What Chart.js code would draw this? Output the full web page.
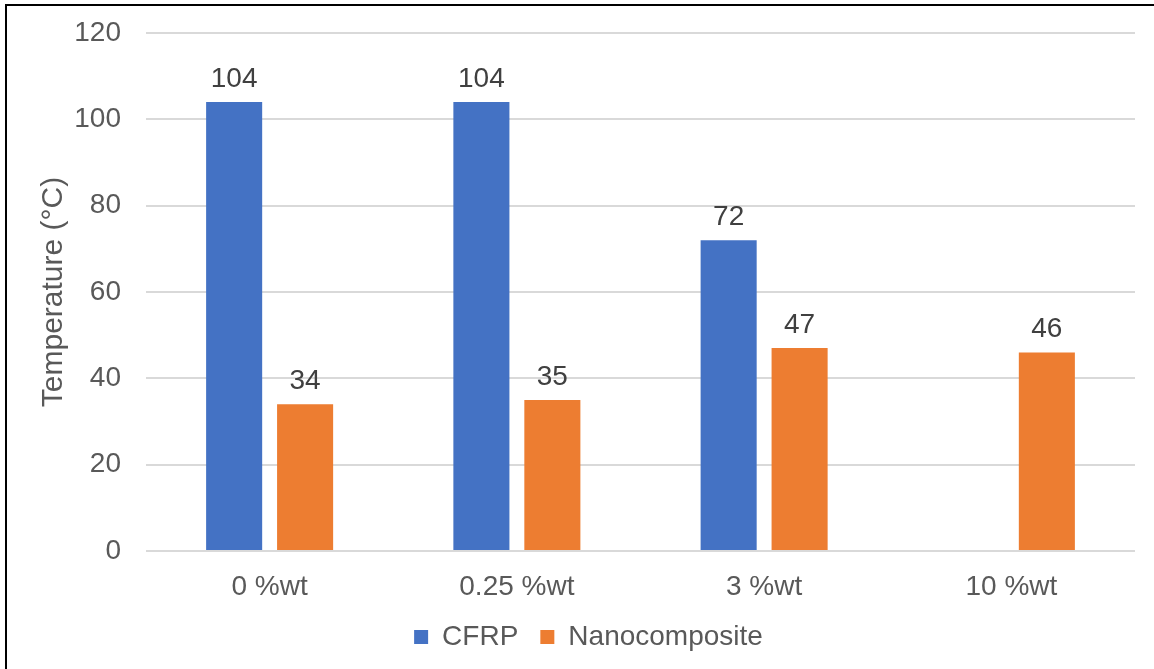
<!DOCTYPE html>
<html>
<head>
<meta charset="utf-8">
<script src="https://cdn.jsdelivr.net/npm/chart.js@4/dist/chart.umd.min.js"></script>
<style>
  html, body { margin: 0; padding: 0; background: #ffffff; }
  #wrap { position: relative; width: 1154px; height: 669px; overflow: hidden; }
  #frame { position: absolute; left: 5px; top: 4px; right: -10px; bottom: -10px;
           border-top: 2px solid #000; border-left: 2px solid #000; pointer-events: none; }
  canvas { position: absolute; left: 0; top: 0; }
</style>
</head>
<body>
<div id="wrap">
  <canvas id="chart" width="1154" height="669"></canvas>
  <div id="frame"></div>
</div>
<script>
// Glass transition temperature by filler content
const categories = ['0 %wt', '0.25 %wt', '3 %wt', '10 %wt'];
const cfrpValues = [104, 104, 72, null];
const nanoValues = [34, 35, 47, 46];
const seriesNames = ['CFRP', 'Nanocomposite'];
const yTicks = [0, 20, 40, 60, 80, 100, 120];

const FONT = "'Liberation Sans', Arial, sans-serif";

// Value labels above each bar
const barLabels = {
  id: 'barLabels',
  afterDatasetsDraw(chart) {
    const ctx = chart.ctx;
    ctx.save();
    ctx.font = '28px ' + FONT;
    ctx.fillStyle = '#404040';
    ctx.textAlign = 'center';
    ctx.textBaseline = 'alphabetic';
    chart.data.datasets.forEach((ds, i) => {
      const meta = chart.getDatasetMeta(i);
      meta.data.forEach((bar, j) => {
        const v = ds.data[j];
        if (v === null || v === undefined) return;
        ctx.fillText(String(Math.round(v)), bar.x, bar.y - 15);
      });
    });
    ctx.restore();
  }
};

// Centre the legend under the whole figure rather than the layout box
const legendShift = {
  id: 'legendShift',
  afterLayout(chart) {
    if (chart.legend) {
      chart.legend.left += 21;
      chart.legend.right += 21;
    }
  }
};

new Chart(document.getElementById('chart'), {
  type: 'bar',
  data: {
    labels: categories,
    datasets: [
      { label: seriesNames[0], data: cfrpValues, backgroundColor: '#4472C4' },
      { label: seriesNames[1], data: nanoValues, backgroundColor: '#ED7D31' }
    ]
  },
  options: {
    responsive: false,
    animation: false,
    categoryPercentage: 0.574,
    barPercentage: 0.79,
    layout: { padding: { left: 0, top: 33, right: 19, bottom: 8 } },
    plugins: {
      tooltip: { enabled: false },
      legend: {
        position: 'bottom',
        labels: {
          font: { family: FONT, size: 28 },
          color: '#595959',
          boxWidth: 14,
          boxHeight: 14,
          padding: 22
        }
      }
    },
    scales: {
      x: {
        grid: { display: false, drawTicks: false },
        border: { display: false },
        ticks: { font: { family: FONT, size: 28 }, color: '#595959', padding: 19 },
        afterFit(scale) { scale.height = 50; }
      },
      y: {
        min: 0,
        max: 120,
        afterBuildTicks(scale) { scale.ticks = yTicks.map(v => ({ value: v })); },
        grid: { color: '#D9D9D9', lineWidth: 2, drawTicks: false },
        border: { display: false },
        ticks: { font: { family: FONT, size: 28 }, color: '#595959', padding: 25 },
        title: {
          display: true,
          text: 'Temperature (°C)',
          font: { family: FONT, size: 30 },
          color: '#595959',
          padding: { top: 36, bottom: 0 }
        },
        afterFit(scale) {
          scale.width = 146;
          scale.paddingTop = 0;
          scale.paddingBottom = 0;
        }
      }
    }
  },
  plugins: [barLabels, legendShift]
});
</script>
</body>
</html>
